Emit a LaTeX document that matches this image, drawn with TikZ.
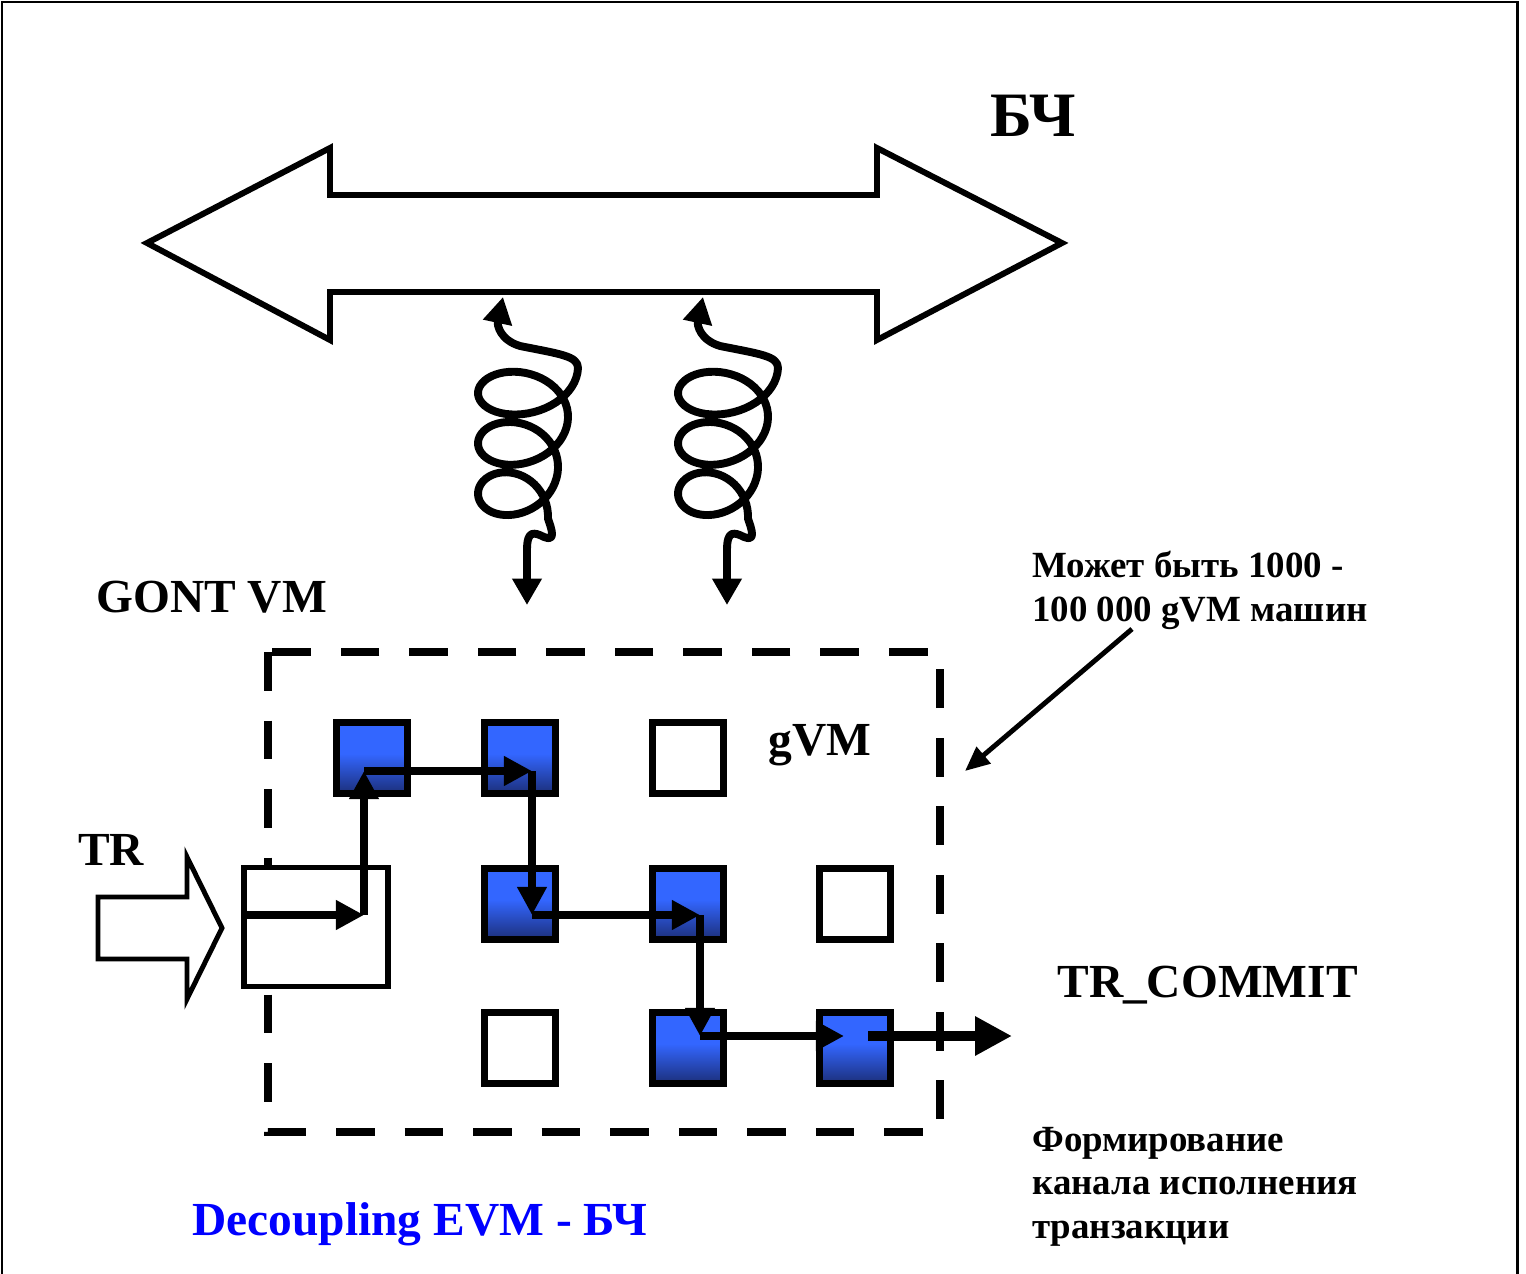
\documentclass[tikz,border=0pt]{standalone}
\usepackage{fontspec}
\setmainfont{Liberation Serif}
\usepackage{xcolor}
\usepackage{tikz}
\usetikzlibrary{arrows.meta}
\definecolor{gvmtop}{HTML}{3366FF}
\definecolor{gvmbot}{HTML}{1C2F7A}
\definecolor{decouple}{HTML}{0000FF}
\pgfdeclareverticalshading{gvmshade}{100bp}{color(0bp)=(gvmbot); color(25bp)=(gvmbot); color(53bp)=(gvmtop); color(100bp)=(gvmtop)}
\tikzset{
  frame/.style={draw=black, line width=1.7pt},
  busarrow/.style={draw=black, line width=3.4pt, fill=white, line join=miter},
  coil/.style={line width=4.5pt, line join=round, {Triangle[length=15pt,width=16pt]}-{Triangle[length=15pt,width=16pt]}},
  vmzone/.style={draw=black, line width=5pt, dash pattern=on 22pt off 17pt},
  trarrow/.style={draw=black, line width=2.8pt, fill=white, line join=miter},
  inbox/.style={draw=black, line width=3.2pt, fill=white, minimum width=2.88cm, minimum height=2.38cm, inner sep=0pt},
  gvm/.style={draw=black, line width=3.8pt, fill=white, minimum size=1.42cm, inner sep=0pt},
  busy/.style={shading=gvmshade},
  route/.style={line width=4.5pt, -{Triangle[length=16pt,width=16pt]}},
  outroute/.style={line width=5.7pt, -{Triangle[length=21pt,width=21pt]}},
  pointer/.style={line width=2.8pt, -{Triangle[length=14pt,width=12pt]}},
  bigtext/.style={font=\bfseries\fontsize{27}{32}\selectfont, anchor=base west, inner sep=0pt},
  bustext/.style={font=\bfseries\fontsize{36}{40}\selectfont, anchor=base west, inner sep=0pt},
  smalltext/.style={font=\bfseries\fontsize{21}{24.5}\selectfont, anchor=base west, align=left, inner sep=0pt}
}
\newcommand{\gcoil}[2]{%
  \begin{scope}[shift={(#2,0)}]
    \coordinate (#1up) at (503,297);
    \coordinate (#1down) at (527,605);
    \draw[coil] (#1up) .. controls (497,325) and (500,340) .. (520,346)
      .. controls (560,354) and (578,356) .. (578,368)
      -- plot[domain=0:6*pi, samples=160] ({478+(50-15*\x/(6*pi))*(1+cos(\x r))}, {368+8*\x+33*sin(\x r)})
      .. controls (552,530) and (556,542) .. (544,537)
      .. controls (534,532) and (527,530) .. (527,550) -- (#1down);
  \end{scope}}

\begin{document}
\begin{tikzpicture}[x=0.02cm,y=-0.02cm]
\path[use as bounding box] (0,0) rectangle (1526,1274);
\draw[frame] (2,1280) -- (2,2) -- (1517,2) -- (1517,1280);

\draw[busarrow] (147,243) -- (330,148) -- (330,195) -- (877,195) -- (877,148) -- (1062,243)
  -- (877,340) -- (877,292) -- (330,292) -- (330,340) -- cycle;
\node[bustext] (bch) at (990,137) {БЧ};

\gcoil{left}{0}
\gcoil{right}{200}

\node[bigtext] (gont) at (96,612) {GONT VM};
\draw[vmzone] (268,652) rectangle (940,1132);

\draw[trarrow] (98,897) -- (187,897) -- (187,857) -- (222,928) -- (187,999) -- (187,959) -- (98,959) -- cycle;
\node[bigtext] (tr) at (78,865) {TR};
\node[inbox] (entry) at (316,927) {};

\node[gvm, busy] (g11) at (372,758) {};
\node[gvm, busy] (g12) at (520,758) {};
\node[gvm] (g13) at (688,758) {};
\node[gvm, busy] (g22) at (520,904) {};
\node[gvm, busy] (g23) at (688,904) {};
\node[gvm] (g24) at (855,904) {};
\node[gvm] (g32) at (520,1048) {};
\node[gvm, busy] (g33) at (688,1048) {};
\node[gvm, busy] (g34) at (855,1048) {};
\node[bigtext] (gvmname) at (768,755) {gVM};

\coordinate (p0) at (entry.west |- 0,915);
\coordinate (p1) at (364,915);
\coordinate (p2) at (364,771);
\coordinate (p3) at (532,771);
\coordinate (p4) at (532,915);
\coordinate (p5) at (700,915);
\coordinate (p6) at (700,1036);
\coordinate (p7) at (844,1036);
\coordinate (p8) at (868,1036);
\coordinate (commit) at (1012,1036);

\draw[route] (p0) -- (p1);
\draw[route] (p1) -- (p2);
\draw[route] (p2) -- (p3);
\draw[route] (p3) -- (p4);
\draw[route] (p4) -- (p5);
\draw[route] (p5) -- (p6);
\draw[route] (p6) -- (p7);
\draw[outroute] (p8) -- (commit);

\node[bigtext] (trcommit) at (1057,997) {TR\_COMMIT};
\node[smalltext] (count) at (1032,621) {Может быть 1000 -\\100 000 gVM машин};
\coordinate (ptail) at (1132,629);
\coordinate (phead) at (965,771);
\draw[pointer] (ptail) -- (phead);

\node[smalltext] (channel) at (1032,1238) {Формирование\\канала исполнения\\транзакции};
\node[bigtext, text=decouple] (decoupling) at (192,1235) {Decoupling EVM - БЧ};

\end{tikzpicture}
\end{document}
